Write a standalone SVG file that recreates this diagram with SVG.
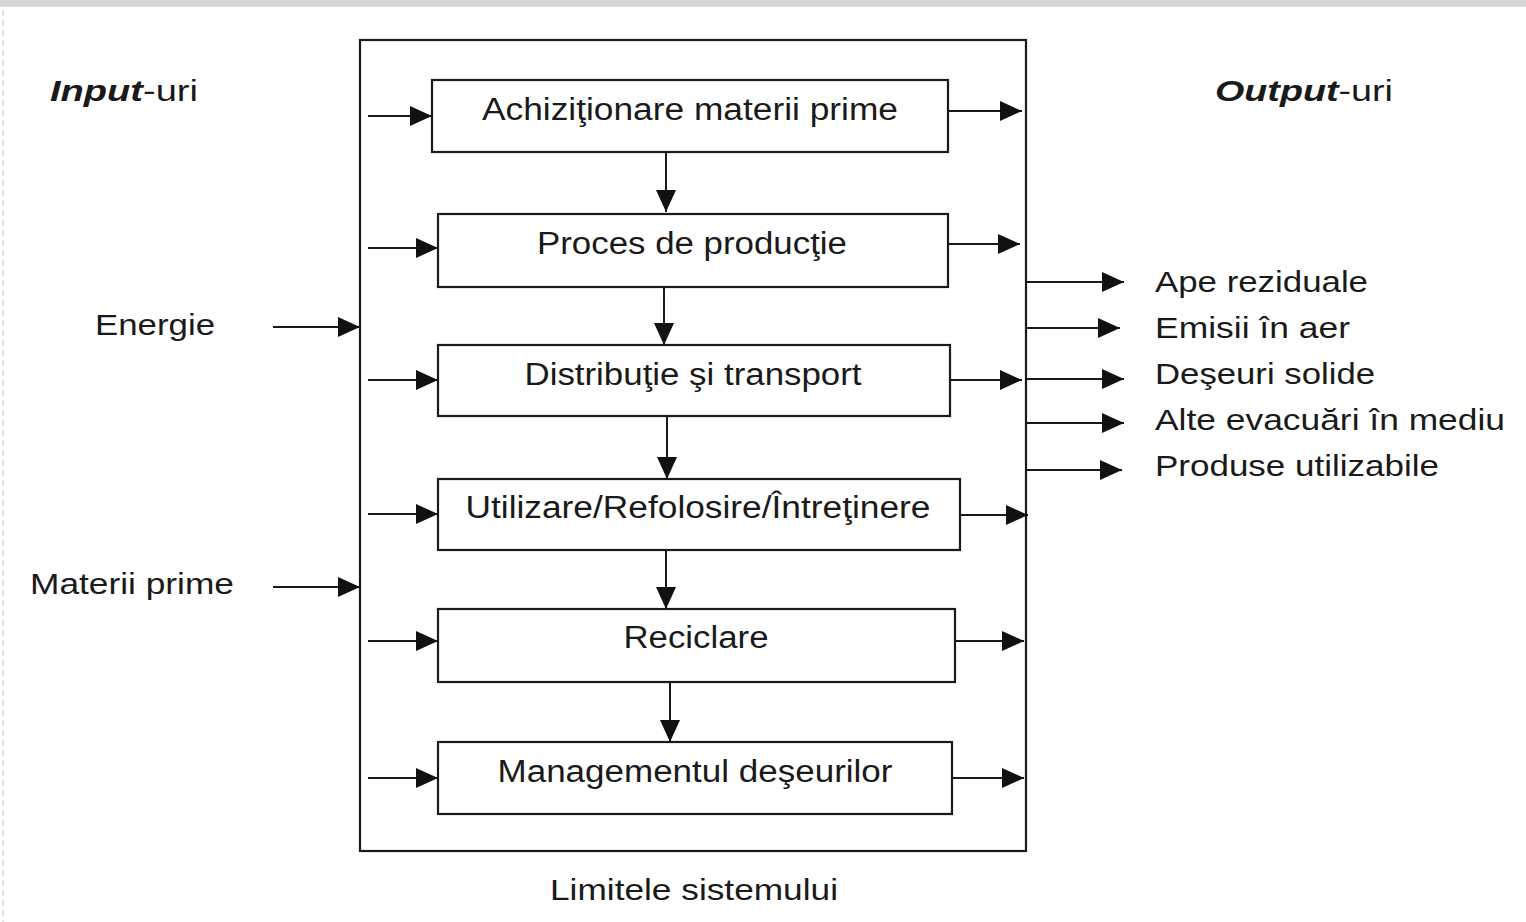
<svg xmlns="http://www.w3.org/2000/svg" width="1526" height="922" viewBox="0 0 1526 922">
<style>
text{font-family:"Liberation Sans",Arial,sans-serif;fill:#1a1a1a}
.bt{font-size:31px;text-anchor:middle}
.lb{font-size:30px}
.box{fill:#fff;stroke:#1a1a1a;stroke-width:2.2}
.ln{stroke:#1a1a1a;stroke-width:2;fill:none}
</style>
<defs>
<marker id="ah" markerUnits="userSpaceOnUse" markerWidth="24" markerHeight="22" refX="22" refY="10" orient="auto">
<path d="M0,0 L22,10 L0,20 Z" fill="#111"/>
</marker>
</defs>
<rect x="0" y="0" width="1526" height="922" fill="#fff"/>
<rect x="0" y="0" width="1526" height="7" fill="#d6d6d6"/>
<line x1="3" y1="10" x2="3" y2="922" stroke="#e2e2e2" stroke-width="2" stroke-dasharray="6 4"/>

<g id="system">
<rect x="360" y="40" width="666" height="811" fill="none" stroke="#1a1a1a" stroke-width="2.2"/>
<text class="lb" x="694" y="900" text-anchor="middle" textLength="288" lengthAdjust="spacingAndGlyphs">Limitele sistemului</text>
</g>

<g id="n1"><rect class="box" x="432" y="80" width="516" height="72"/><text class="bt" x="690" y="120" textLength="416" lengthAdjust="spacingAndGlyphs">Achiziţionare materii prime</text></g>
<g id="n2"><rect class="box" x="438" y="214" width="510" height="73"/><text class="bt" x="692" y="254" textLength="310" lengthAdjust="spacingAndGlyphs">Proces de producţie</text></g>
<g id="n3"><rect class="box" x="438" y="345" width="512" height="71"/><text class="bt" x="693" y="385" textLength="337" lengthAdjust="spacingAndGlyphs">Distribuţie şi transport</text></g>
<g id="n4"><rect class="box" x="438" y="479" width="522" height="71"/><text class="bt" x="698" y="518" textLength="465" lengthAdjust="spacingAndGlyphs">Utilizare/Refolosire/Întreţinere</text></g>
<g id="n5"><rect class="box" x="438" y="609" width="517" height="73"/><text class="bt" x="696" y="648" textLength="145" lengthAdjust="spacingAndGlyphs">Reciclare</text></g>
<g id="n6"><rect class="box" x="438" y="742" width="514" height="72"/><text class="bt" x="695" y="782" textLength="395" lengthAdjust="spacingAndGlyphs">Managementul deşeurilor</text></g>

<g id="labels">
<text class="lb" x="50" y="101" textLength="148" lengthAdjust="spacingAndGlyphs"><tspan font-weight="bold" font-style="italic">Input</tspan>-uri</text>
<text class="lb" x="1215" y="101" textLength="178" lengthAdjust="spacingAndGlyphs"><tspan font-weight="bold" font-style="italic">Output</tspan>-uri</text>
<text class="lb" x="95" y="335" textLength="120" lengthAdjust="spacingAndGlyphs">Energie</text>
<text class="lb" x="30" y="594" textLength="204" lengthAdjust="spacingAndGlyphs">Materii prime</text>
<text class="lb" x="1155" y="292" textLength="213" lengthAdjust="spacingAndGlyphs">Ape reziduale</text>
<text class="lb" x="1155" y="338" textLength="195" lengthAdjust="spacingAndGlyphs">Emisii în aer</text>
<text class="lb" x="1155" y="384" textLength="220" lengthAdjust="spacingAndGlyphs">Deşeuri solide</text>
<text class="lb" x="1155" y="430" textLength="350" lengthAdjust="spacingAndGlyphs">Alte evacuări în mediu</text>
<text class="lb" x="1155" y="476" textLength="284" lengthAdjust="spacingAndGlyphs">Produse utilizabile</text>
</g>

<g id="connectors">
<line class="ln" x1="368" y1="116" x2="432" y2="116" marker-end="url(#ah)"/>
<line class="ln" x1="368" y1="248" x2="438" y2="248" marker-end="url(#ah)"/>
<line class="ln" x1="368" y1="380" x2="438" y2="380" marker-end="url(#ah)"/>
<line class="ln" x1="368" y1="514" x2="438" y2="514" marker-end="url(#ah)"/>
<line class="ln" x1="368" y1="641" x2="438" y2="641" marker-end="url(#ah)"/>
<line class="ln" x1="368" y1="778" x2="438" y2="778" marker-end="url(#ah)"/>

<line class="ln" x1="948" y1="111" x2="1022" y2="111" marker-end="url(#ah)"/>
<line class="ln" x1="948" y1="244" x2="1020" y2="244" marker-end="url(#ah)"/>
<line class="ln" x1="950" y1="380" x2="1022" y2="380" marker-end="url(#ah)"/>
<line class="ln" x1="960" y1="515" x2="1028" y2="515" marker-end="url(#ah)"/>
<line class="ln" x1="955" y1="641" x2="1024" y2="641" marker-end="url(#ah)"/>
<line class="ln" x1="952" y1="778" x2="1024" y2="778" marker-end="url(#ah)"/>

<line class="ln" x1="666" y1="152" x2="666" y2="212" marker-end="url(#ah)"/>
<line class="ln" x1="664" y1="287" x2="664" y2="345" marker-end="url(#ah)"/>
<line class="ln" x1="667" y1="416" x2="667" y2="479" marker-end="url(#ah)"/>
<line class="ln" x1="666" y1="550" x2="666" y2="609" marker-end="url(#ah)"/>
<line class="ln" x1="670" y1="682" x2="670" y2="742" marker-end="url(#ah)"/>

<line class="ln" x1="273" y1="327" x2="360" y2="327" marker-end="url(#ah)"/>
<line class="ln" x1="273" y1="587" x2="360" y2="587" marker-end="url(#ah)"/>

<line class="ln" x1="1026" y1="282" x2="1124" y2="282" marker-end="url(#ah)"/>
<line class="ln" x1="1026" y1="328" x2="1120" y2="328" marker-end="url(#ah)"/>
<line class="ln" x1="1026" y1="379" x2="1124" y2="379" marker-end="url(#ah)"/>
<line class="ln" x1="1026" y1="423" x2="1124" y2="423" marker-end="url(#ah)"/>
<line class="ln" x1="1026" y1="470" x2="1122" y2="470" marker-end="url(#ah)"/>
</g>
</svg>
